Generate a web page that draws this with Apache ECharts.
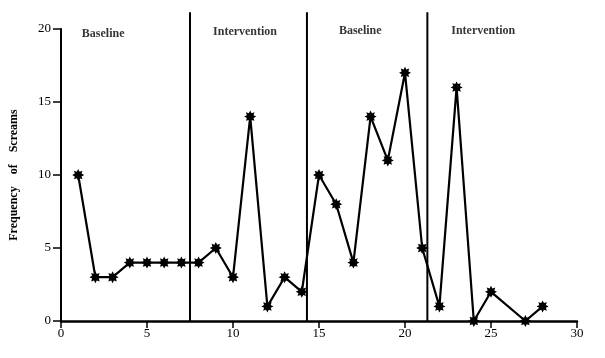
<!DOCTYPE html>
<html>
<head>
<meta charset="utf-8">
<script src="https://cdn.jsdelivr.net/npm/echarts@6/dist/echarts.min.js"></script>
<style>html,body{margin:0;padding:0;background:#fff}#c{width:605px;height:358px}</style>
</head>
<body>
<div id="c"></div>
<script>
// Sessions and frequency of screams
var sessions = [1,2,3,4,5,6,7,8,9,10,11,12,13,14,15,16,17,18,19,20,21,22,23,24,25,27,28];
var screams  = [10,3,3,4,4,4,4,4,5,3,14,1,3,2,10,8,4,14,11,17,5,1,16,0,2,0,1];
// Phase change lines (x positions between sessions)
var phaseBoundaries = [7.5, 14.3, 21.3];
// Phase labels
var phaseNames = ['Baseline','Intervention','Baseline','Intervention'];
var phaseLabelX = [2.45, 10.7, 17.4, 24.55];
var phaseLabelY = [19.65, 19.8, 19.9, 19.9];
var xTicks = [0,5,10,15,20,25,30];
var yTicks = [0,5,10,15,20];

var FONT = 'Liberation Serif';
var star = 'path://M20 10 L15.54 12.30 L17.07 17.07 L12.30 15.54 L10 20 L7.70 15.54 L2.93 17.07 L4.46 12.30 L0 10 L4.46 7.70 L2.93 2.93 L7.70 4.46 L10 0 L12.30 4.46 L17.07 2.93 L15.54 7.70 Z';

var chart = echarts.init(document.getElementById('c'));
chart.setOption({
  animation: false,
  backgroundColor: '#fff',
  grid: {left: 60, right: 28, top: 29, bottom: 37},
  xAxis: {
    type: 'value', min: xTicks[0], max: xTicks[xTicks.length-1], interval: 5,
    splitLine: {show: false},
    axisLine: {lineStyle: {color: '#000', width: 2.5}},
    axisTick: {length: 7, lineStyle: {color: '#000', width: 1.5}},
    axisLabel: {color: '#000', fontFamily: FONT, fontSize: 13, margin: 6}
  },
  yAxis: {
    type: 'value', min: yTicks[0], max: yTicks[yTicks.length-1], interval: 5,
    name: 'Frequency    of    Screams', nameLocation: 'middle', nameGap: 41, nameRotate: 90,
    nameTextStyle: {color: '#000', fontFamily: FONT, fontWeight: 'bold', fontSize: 12},
    splitLine: {show: false},
    axisLine: {show: true, lineStyle: {color: '#000', width: 2}},
    axisTick: {show: true, length: 8, lineStyle: {color: '#000', width: 1.5}},
    axisLabel: {color: '#000', fontFamily: FONT, fontSize: 13, margin: 10}
  },
  series: [
    {
      type: 'custom',
      clip: false,
      silent: true,
      encode: {x: 0, y: 1},
      data: phaseBoundaries.map(function(b){ return [b, 0]; }),
      renderItem: function(params, api) {
        var p0 = api.coord([api.value(0), 0]);
        var p1 = api.coord([api.value(0), 21.15]);
        return {type: 'line', shape: {x1: p0[0], y1: p0[1], x2: p1[0], y2: p1[1]},
                style: {stroke: '#000', lineWidth: 2}};
      }
    },
    {
      type: 'line',
      data: sessions.map(function(s, i){ return [s, screams[i]]; }),
      symbol: star, symbolSize: 12, showAllSymbol: true,
      lineStyle: {color: '#000', width: 2.2},
      itemStyle: {color: '#000', borderWidth: 0},
      z: 5
    },
    {
      type: 'scatter',
      symbolSize: 0,
      silent: true,
      data: phaseNames.map(function(n, i){ return {name: n, value: [phaseLabelX[i], phaseLabelY[i]]}; }),
      label: {show: true, position: 'inside', formatter: '{b}', color: '#000',
              fontFamily: FONT, fontWeight: 'bold', fontSize: 12}
    }
  ]
});
</script>
</body>
</html>
